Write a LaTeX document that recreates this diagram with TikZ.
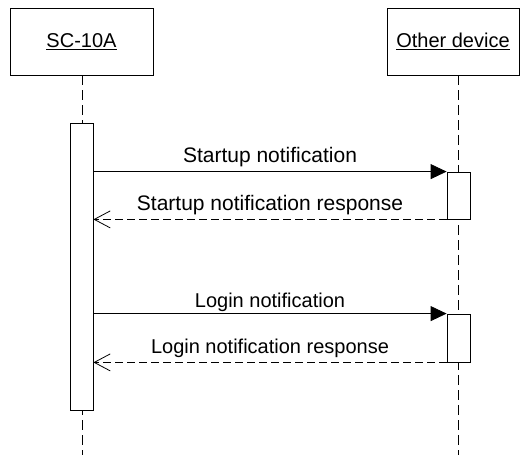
\documentclass[tikz,border=0pt]{standalone}
\usepackage{fontspec}
\setmainfont{Liberation Sans}
\usetikzlibrary{arrows.meta}

\tikzset{
  objbox/.style={draw, line width=0.8pt, minimum width=#1, minimum height=67pt, inner sep=0pt,
    font=\fontsize{20}{24}\selectfont},
  actbar/.style={draw, fill=white, line width=0.8pt, minimum width=23pt, minimum height=#1, inner sep=0pt},
  lifeline/.style={line width=0.8pt, dash pattern=on 10pt off 5pt},
  callmsg/.style={line width=0.8pt, -{Triangle[length=16pt,width=15pt]}},
  replymsg/.style={line width=0.8pt, dash pattern=on 8pt off 4pt, -{Straight Barb[length=16pt,width=17pt,line width=0.8pt]}},
  msglabel/.style={anchor=base, yshift=9pt, inner sep=0pt}
}

\begin{document}
\begin{tikzpicture}[x=1pt, y=-1pt]
\useasboundingbox (0,0) rectangle (520,455);

% objects
\node[objbox=143pt] (sc) at (81.5,41.5) {\underline{SC-10A}};
\node[objbox=132pt] (dev) at (453,41.5) {\underline{Other device}};

% lifelines
\coordinate (scend) at (82,455);
\coordinate (devtop) at (458,75);
\coordinate (devend) at (458,455);
\draw[lifeline] (82,75) -- (scend);
\draw[lifeline] (devtop) -- (devend);

% activations
\node[actbar=287pt] (scbar) at (81.5,266.5) {};
\node[actbar=47pt] (devbar1) at (458.5,195.5) {};
\node[actbar=48pt] (devbar2) at (458.5,338) {};

% startup
\draw[callmsg] (scbar.east |- devbar1.north) -- (devbar1.north west)
  node[msglabel, midway, font=\fontsize{21}{24}\selectfont] (m1) {Startup notification};
\draw[replymsg] (devbar1.south west) -- (scbar.east |- devbar1.south)
  node[msglabel, midway, font=\fontsize{21}{24}\selectfont] (m2) {Startup notification response};

% login
\draw[callmsg] (scbar.east |- devbar2.north) -- (devbar2.north west)
  node[msglabel, midway, yshift=-3pt, font=\fontsize{20}{24}\selectfont] (m3) {Login notification};
\draw[replymsg] (devbar2.south west) -- (scbar.east |- devbar2.south)
  node[msglabel, midway, font=\fontsize{20}{24}\selectfont] (m4) {Login notification response};

\end{tikzpicture}
\end{document}
